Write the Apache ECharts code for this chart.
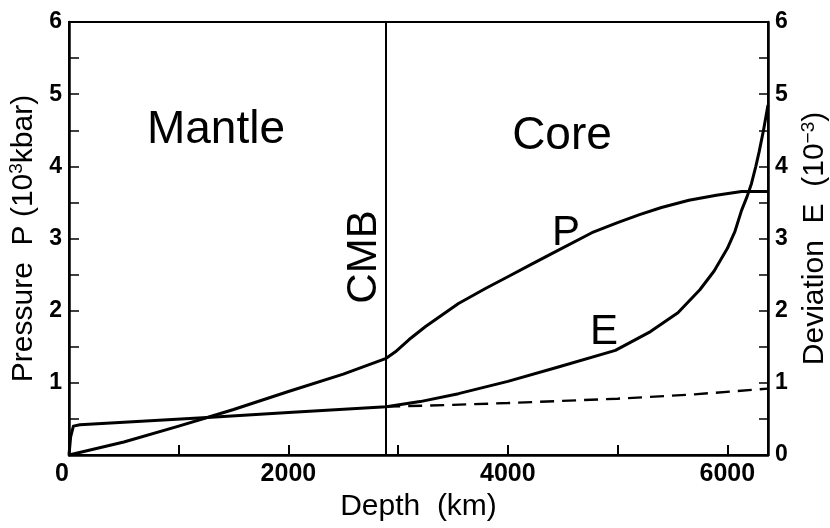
<!DOCTYPE html>
<html>
<head>
<meta charset="utf-8">
<script src="https://cdn.jsdelivr.net/npm/echarts@6/dist/echarts.min.js"></script>
<style>html,body{margin:0;padding:0;background:#fff}#c{width:830px;height:528px}</style>
</head>
<body>
<div id="c"></div>
<script>
// Depth (km) and pressure P (10^3 kbar)
const depthP = [0, 500, 1000, 1260, 1500, 2000, 2500, 2891, 2975, 3100, 3250, 3550, 3800, 4000, 4200, 4400, 4766, 5000, 5200, 5400, 5650, 5900, 6130, 6371];
const pressure = [0, 0.18, 0.40, 0.52, 0.63, 0.88, 1.12, 1.34, 1.43, 1.60, 1.78, 2.10, 2.31, 2.47, 2.63, 2.79, 3.08, 3.22, 3.33, 3.43, 3.53, 3.60, 3.65, 3.65];
// Depth (km) and deviation E (10^-3)
const depthE = [0, 15, 40, 100, 1260, 2000, 2891, 3200, 3550, 4000, 4460, 4980, 5300, 5550, 5750, 5880, 6000, 6070, 6130, 6180, 6220, 6260, 6290, 6330, 6371];
const deviation = [0, 0.25, 0.40, 0.42, 0.52, 0.59, 0.67, 0.74, 0.85, 1.02, 1.22, 1.45, 1.71, 1.97, 2.29, 2.55, 2.86, 3.10, 3.39, 3.58, 3.76, 4.00, 4.20, 4.50, 4.85];
// Dashed extension of E in the core
const depthD = [2891, 3500, 4000, 5000, 5700, 6371];
const deviationD = [0.67, 0.695, 0.72, 0.78, 0.84, 0.92];
const cmbDepth = 2891;
const xTicks = [0, 2000, 4000, 6000];
const yTicks = [0, 1, 2, 3, 4, 5, 6];

const chart = echarts.init(document.getElementById('c'));
const font = 'Liberation Sans, Arial, sans-serif';
const zip = (a, b) => a.map((v, i) => [v, b[i]]);
const supRich = { sup: { fontSize: 19, verticalAlign: 'bottom', padding: [0, 0, 13, 0], fontFamily: font } };

chart.setOption({
  animation: false,
  backgroundColor: '#fff',
  textStyle: { fontFamily: font, color: '#000' },
  grid: { left: 69, right: 62, top: 22, bottom: 73, show: true, borderColor: '#000', borderWidth: 2,
    containLabel: false, outerBoundsMode: 'none' },
  xAxis: {
    type: 'value', min: 0, max: 6371, interval: 1000,
    name: 'Depth  (km)', nameLocation: 'middle', nameGap: 32,
    nameTextStyle: { fontSize: 30, color: '#000', fontFamily: font },
    axisLine: { lineStyle: { color: '#000', width: 2.5 } },
    axisTick: { inside: true, length: 10, lineStyle: { color: '#000', width: 2 } },
    axisLabel: {
      fontSize: 25, fontWeight: 'bold', color: '#000', margin: 7, fontFamily: font,
      showMaxLabel: false, alignMinLabel: 'right',
      formatter: v => xTicks.includes(v) ? String(v) : ''
    },
    splitLine: { show: false }
  },
  yAxis: [{
    type: 'value', min: 0, max: 6, interval: 0.5, position: 'left',
    name: 'Pressure  P (10{sup|3}kbar)', nameLocation: 'middle', nameRotate: 90, nameGap: 21,
    nameTextStyle: { fontSize: 30, color: '#000', fontFamily: font, rich: supRich },
    axisLine: { lineStyle: { color: '#000', width: 2.5 } },
    axisTick: { inside: true, length: 10, lineStyle: { color: '#000', width: 1.5 } },
    axisLabel: { fontSize: 23, fontWeight: 'bold', color: '#000', margin: 7, fontFamily: font,
      formatter: v => (yTicks.includes(v) && v !== 0) ? String(v) : '' },
    splitLine: { show: false }
  }, {
    type: 'value', min: 0, max: 6, interval: 0.5, position: 'right',
    name: 'Deviation  E  (10{sup|−3})', nameLocation: 'middle', nameRotate: 90, nameGap: 31,
    nameTextStyle: { fontSize: 30, color: '#000', fontFamily: font, rich: supRich },
    axisLine: { lineStyle: { color: '#000', width: 2.5 } },
    axisTick: { inside: true, length: 9, lineStyle: { color: '#000', width: 1.5 } },
    axisLabel: { fontSize: 23, fontWeight: 'bold', color: '#000', margin: 7, fontFamily: font,
      formatter: v => yTicks.includes(v) ? String(v) : '' },
    splitLine: { show: false }
  }],
  series: [{
    name: 'P', type: 'line', yAxisIndex: 0, data: zip(depthP, pressure),
    showSymbol: false, smooth: false,
    lineStyle: { color: '#000', width: 3, join: 'round' },
    markLine: {
      silent: true, symbol: 'none', label: { show: false },
      lineStyle: { color: '#000', width: 2, type: 'solid' },
      data: [{ xAxis: cmbDepth }]
    }
  }, {
    name: 'E', type: 'line', yAxisIndex: 1, data: zip(depthE, deviation),
    showSymbol: false, smooth: false,
    lineStyle: { color: '#000', width: 3, join: 'round' }
  }, {
    name: 'E dashed', type: 'line', yAxisIndex: 1, data: zip(depthD, deviationD),
    showSymbol: false, smooth: false,
    lineStyle: { color: '#000', width: 2.4, type: [14, 8] }
  }],
  graphic: [
    { type: 'text', x: 216, y: 130, style: { text: 'Mantle', fontSize: 46, fontFamily: font, fill: '#000', align: 'center', verticalAlign: 'middle' } },
    { type: 'text', x: 562, y: 136, style: { text: 'Core', fontSize: 46, fontFamily: font, fill: '#000', align: 'center', verticalAlign: 'middle' } },
    { type: 'text', x: 566, y: 233, style: { text: 'P', fontSize: 42, fontFamily: font, fill: '#000', align: 'center', verticalAlign: 'middle' } },
    { type: 'text', x: 604, y: 332, style: { text: 'E', fontSize: 42, fontFamily: font, fill: '#000', align: 'center', verticalAlign: 'middle' } },
    { type: 'text', x: 364, y: 257, rotation: Math.PI / 2, style: { text: 'CMB', fontSize: 42, fontFamily: font, fill: '#000', align: 'center', verticalAlign: 'middle' } }
  ]
});
</script>
</body>
</html>
